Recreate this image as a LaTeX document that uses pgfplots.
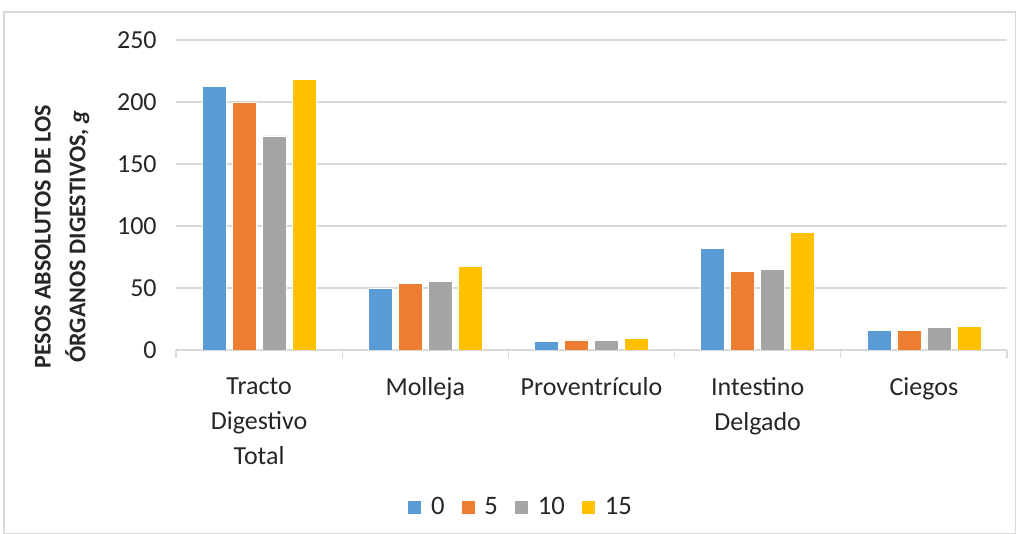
\documentclass[border=0pt]{standalone}
\usepackage{pgfplots}
\pgfplotsset{compat=1.18}
\usepackage{fontspec}
\setmainfont{Carlito}
\definecolor{cblue}{HTML}{5B9BD5}
\definecolor{corange}{HTML}{ED7D31}
\definecolor{cgray}{HTML}{A5A5A5}
\definecolor{cyellow}{HTML}{FFC000}
\definecolor{gridc}{HTML}{D9D9D9}
\definecolor{txt}{HTML}{262626}
\begin{document}
\begin{tikzpicture}
\useasboundingbox (0,0) rectangle (762pt,400.5pt);
\draw[gridc, line width=0.8pt] (3pt,0.5pt) rectangle (761.5pt,391.5pt);
\begin{axis}[
  at={(132pt,138pt)}, anchor=south west,
  scale only axis, width=623.25pt, height=232.5pt,
  ybar=4.5pt, bar width=18pt,
  xmin=-0.5, xmax=4.5, ymin=0, ymax=250,
  ytick={0,50,...,250},
  xtick={0,1,2,3,4},
  xticklabels={{Tracto\\Digestivo\\Total},{Molleja},{Proventrículo},{Intestino\\Delgado},{Ciegos}},
  major x tick style={draw=none},
  extra x ticks={-0.5,0.5,1.5,2.5,3.5,4.5},
  extra x tick labels={},
  extra x tick style={major tick length=6pt, tick align=outside, xticklabel style={draw=none}, major x tick style={draw=gridc, line width=0.8pt}, grid=none},
  axis x line*=bottom, axis y line*=left,
  x axis line style={draw=gridc, line width=0.8pt, -},
  y axis line style={draw=none},
  ytick style={draw=none},
  ymajorgrids, grid style={gridc, line width=0.8pt},
  tick label style={font=\fontsize{19.5}{26.25}\selectfont, text=txt},
  /pgf/number format/assume math mode=true,
  yticklabel style={xshift=-11pt},
  xticklabel style={align=center, anchor=north, yshift=-13pt},
  ylabel={\textbf{PESOS ABSOLUTOS DE LOS}\\\textbf{ÓRGANOS DIGESTIVOS, \textit{g}}},
  ylabel style={at={(axis description cs:-0.137,0.365)}, anchor=center, align=center, font=\fontsize{18}{26}\selectfont, text=txt},
  legend style={at={(axis description cs:0.415,-0.506)}, anchor=center, draw=none, legend columns=4, font=\fontsize{20}{22}\selectfont, text=txt,
    /tikz/every even column/.append style={column sep=10pt},
    /tikz/every odd column/.append style={column sep=5pt}},
  legend image code/.code={\fill[#1] (0pt,-5.25pt) rectangle (10.5pt,5.25pt);},
  every axis plot/.append style={draw=white, line width=0.4pt},
]
\addplot[fill=cblue] coordinates {(0,212.3) (1,49.7) (2,6.9) (3,81.7) (4,15.6)};
\addplot[fill=corange] coordinates {(0,200.0) (1,53.8) (2,8.1) (3,63.7) (4,15.6)};
\addplot[fill=cgray] coordinates {(0,172.6) (1,55.1) (2,8.0) (3,65.0) (4,18.0)};
\addplot[fill=cyellow] coordinates {(0,218.3) (1,67.2) (2,9.4) (3,94.9) (4,19.1)};
\legend{0,5,10,15}
\end{axis}
\end{tikzpicture}
\end{document}
